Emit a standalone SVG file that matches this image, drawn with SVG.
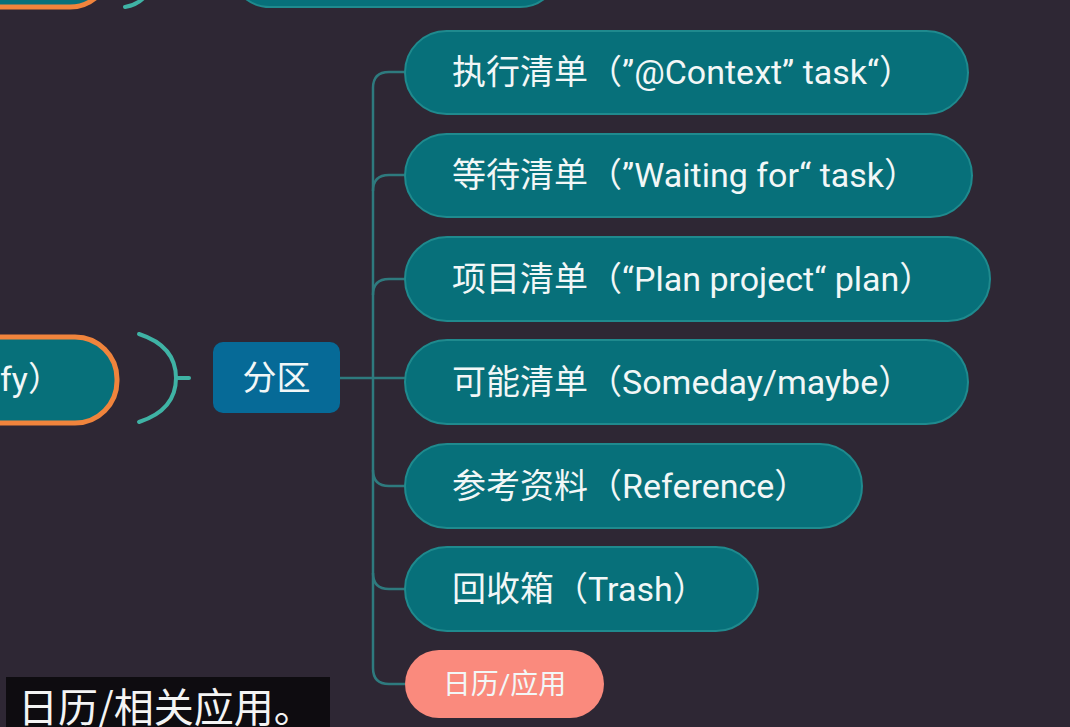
<svg xmlns="http://www.w3.org/2000/svg" width="1070" height="727" viewBox="0 0 1070 727">
<style>
.bg{fill:#2e2734}
.topic{fill:#07707a;stroke:#1f8a8e;stroke-width:2}
.t{font-family:Roboto,"Noto Sans CJK SC",sans-serif;fill:#f2f7f7;font-size:34px}
.conn{fill:none;stroke:#2e7a7e;stroke-width:2.5}
.brace{fill:none;stroke:#3fb3a5;stroke-width:4;stroke-linecap:round}
</style>
<rect class="bg" x="0" y="0" width="1070" height="727"/>

<g id="prev-topic">
<rect x="-60" y="-80" width="170" height="87" rx="40" fill="#07707a" stroke="#f0843c" stroke-width="5"/>
</g>
<g id="prev-brace">
<path class="brace" d="M125,7 Q148,3 152,-20"/>
</g>
<g id="prev-child">
<rect class="topic" x="230" y="-80" width="330" height="87" rx="40"/>
</g>

<g id="organize">
<rect x="-60" y="337" width="177" height="86" rx="42" fill="#07707a" stroke="#f0843c" stroke-width="5"/>
<text class="t" x="0" y="391">fy）</text>
</g>
<g id="brace">
<path class="brace" d="M139,334 Q176,346 176,378 Q176,410 139,422"/>
<path class="brace" d="M176,378 L189,378"/>
</g>

<g id="connectors">
<path class="conn" d="M340,378 L405,378"/>
<path class="conn" d="M373,378 L373,88 Q373,72 389,72 L405,72"/>
<path class="conn" d="M373,191 Q373,175 389,175 L405,175"/>
<path class="conn" d="M373,295 Q373,279 389,279 L405,279"/>
<path class="conn" d="M373,378 L373,668 Q373,684 389,684 L405,684"/>
<path class="conn" d="M373,470 Q373,486 389,486 L405,486"/>
<path class="conn" d="M373,573 Q373,589 389,589 L405,589"/>
</g>

<g id="partition">
<rect x="213" y="342" width="127" height="71" rx="10" fill="#066a97"/>
<text class="t" x="276.5" y="390" text-anchor="middle">分区</text>
</g>

<g id="n1">
<rect class="topic" x="405" y="31" width="563" height="83" rx="41.5"/>
<text class="t" x="452" y="84">执行清单（”@Context” task“）</text>
</g>
<g id="n2">
<rect class="topic" x="405" y="134" width="567" height="83" rx="41.5"/>
<text class="t" x="452" y="187">等待清单（”Waiting for“ task）</text>
</g>
<g id="n3">
<rect class="topic" x="405" y="237" width="585" height="84" rx="42"/>
<text class="t" x="452" y="291">项目清单（“Plan project“ plan）</text>
</g>
<g id="n4">
<rect class="topic" x="405" y="340" width="563" height="84" rx="42"/>
<text class="t" x="452" y="394">可能清单（Someday/maybe）</text>
</g>
<g id="n5">
<rect class="topic" x="405" y="444" width="457" height="84" rx="42"/>
<text class="t" x="452" y="498">参考资料（Reference）</text>
</g>
<g id="n6">
<rect class="topic" x="405" y="547" width="353" height="84" rx="42"/>
<text class="t" x="452" y="601">回收箱（Trash）</text>
</g>
<g id="n7">
<rect x="405" y="650" width="199" height="68" rx="34" fill="#fa8a7d"/>
<text class="t" x="504.5" y="694" text-anchor="middle" style="font-size:28px">日历/应用</text>
</g>

<g id="subtitle">
<rect x="6" y="677" width="324" height="60" fill="#0e0c10"/>
<text x="18" y="722" font-family="'Noto Sans CJK SC',sans-serif" font-size="40" fill="#f4f4f4">日历/相关应用。</text>
</g>
</svg>
